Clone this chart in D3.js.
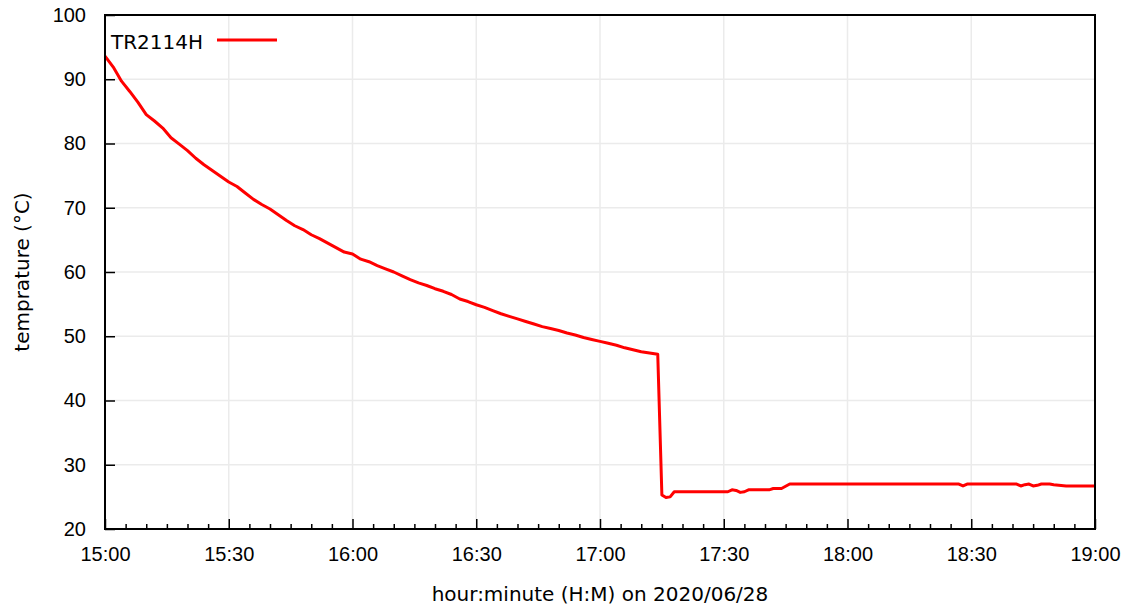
<!DOCTYPE html>
<html>
<head>
<meta charset="utf-8">
<script src="https://cdn.jsdelivr.net/npm/d3@7"></script>
<style>
  html, body { margin: 0; padding: 0; background: #fff; }
  svg { display: block; font-family: "DejaVu Sans", Verdana, sans-serif; }
</style>
</head>
<body>
<svg id="chart" width="1134" height="614"></svg>
<script>
// Temperature log of TR2114H, 2020/06/28 (clock time, °C)
const times = [
  "15:00","15:02","15:04","15:06","15:08","15:10","15:12","15:14","15:16","15:18",
  "15:20","15:22","15:24","15:26","15:28","15:30","15:32","15:34","15:36","15:38",
  "15:40","15:42","15:44","15:46","15:48","15:50","15:52","15:54","15:56","15:58",
  "16:00","16:02","16:04","16:06","16:08","16:10","16:12","16:14","16:16","16:18",
  "16:20","16:22","16:24","16:26","16:28","16:30","16:32","16:34","16:36","16:38",
  "16:40","16:42","16:44","16:46","16:48","16:50","16:52","16:54","16:56","16:58",
  "17:00","17:02","17:04","17:06","17:08","17:10","17:12","17:14","17:15","17:16",
  "17:17","17:18","17:30","17:31","17:32","17:33","17:34","17:35","17:36","17:41",
  "17:42","17:44","17:46","18:27","18:28","18:29","18:41","18:42","18:43","18:44",
  "18:45","18:46","18:47","18:49","18:50","18:53","19:00"
];
const temps = [
  93.6, 91.9, 89.7, 88.1, 86.4, 84.5, 83.5, 82.4, 80.9, 79.9,
  78.9, 77.7, 76.7, 75.8, 74.9, 74.0, 73.3, 72.3, 71.3, 70.5,
  69.8, 68.9, 68.0, 67.2, 66.6, 65.8, 65.2, 64.5, 63.8, 63.1,
  62.8, 62.0, 61.6, 61.0, 60.5, 60.0, 59.4, 58.8, 58.3, 57.9,
  57.4, 57.0, 56.5, 55.8, 55.4, 54.9, 54.5, 54.0, 53.5, 53.1,
  52.7, 52.3, 51.9, 51.5, 51.2, 50.9, 50.5, 50.2, 49.8, 49.5,
  49.2, 48.9, 48.6, 48.2, 47.9, 47.6, 47.4, 47.2, 25.3, 24.9,
  25.0, 25.8, 25.8, 25.8, 26.1, 26.0, 25.7, 25.8, 26.1, 26.1,
  26.3, 26.3, 27.0, 27.0, 26.7, 27.0, 27.0, 26.7, 26.9, 27.0,
  26.7, 26.8, 27.0, 27.0, 26.9, 26.7, 26.7
];
const seriesName = "TR2114H";
const yTicks = [20, 30, 40, 50, 60, 70, 80, 90, 100];
const xTickLabels = ["15:00","15:30","16:00","16:30","17:00","17:30","18:00","18:30","19:00"];
const xTitle = "hour:minute (H:M) on 2020/06/28";
const yTitle = "temprature (°C)";

const parse = d3.timeParse("%Y-%m-%d %H:%M");
const day = "2020-06-28";
const data = times.map((t, i) => ({ t: parse(day + " " + t), v: temps[i] }));

const margin = { left: 105, right: 39, top: 15, bottom: 85 };
const W = 1134, H = 614;
const svg = d3.select("#chart");

const x = d3.scaleTime()
  .domain([parse(day + " 15:00"), parse(day + " 19:00")])
  .range([margin.left, W - margin.right]);
const y = d3.scaleLinear()
  .domain([20, 100])
  .range([H - margin.bottom, margin.top]);

const majorX = xTickLabels.map(s => parse(day + " " + s));
const minorX = d3.timeMinute.every(5).range(x.domain()[0], x.domain()[1])
  .filter(d => d.getMinutes() % 30 !== 0);

// grid
const grid = svg.append("g").attr("stroke", "#ebebeb").attr("stroke-width", 1.5);
majorX.slice(1, -1).forEach(d => {
  grid.append("line").attr("x1", x(d)).attr("x2", x(d))
    .attr("y1", y(20)).attr("y2", y(100));
});
yTicks.slice(1, -1).forEach(v => {
  grid.append("line").attr("x1", x.range()[0]).attr("x2", x.range()[1])
    .attr("y1", y(v)).attr("y2", y(v));
});

// bottom axis: ticks pointing inward
const xAxis = d3.axisBottom(x)
  .tickValues(majorX)
  .tickFormat(d3.timeFormat("%H:%M"))
  .tickSizeInner(-10).tickSizeOuter(0).tickPadding(18);
const gx = svg.append("g").attr("transform", `translate(0,${y(20)})`).call(xAxis);
gx.select(".domain").remove();
gx.selectAll("line").attr("stroke", "#000").attr("stroke-width", 1.5);
gx.selectAll("text").attr("font-size", 20).attr("fill", "#000");

const xMinor = d3.axisBottom(x).tickValues(minorX).tickFormat("")
  .tickSizeInner(-5).tickSizeOuter(0);
const gxm = svg.append("g").attr("transform", `translate(0,${y(20)})`).call(xMinor);
gxm.select(".domain").remove();
gxm.selectAll("line").attr("stroke", "#000").attr("stroke-width", 1.5);

// left axis
const yAxis = d3.axisLeft(y).tickValues(yTicks)
  .tickSizeInner(-10).tickSizeOuter(0).tickPadding(19);
const gy = svg.append("g").attr("transform", `translate(${x.range()[0]},0)`).call(yAxis);
gy.select(".domain").remove();
gy.selectAll("line").attr("stroke", "#000").attr("stroke-width", 1.5);
gy.selectAll("text").attr("font-size", 20).attr("fill", "#000");

// data line
const line = d3.line().x(d => x(d.t)).y(d => y(d.v));
svg.append("path").datum(data)
  .attr("fill", "none").attr("stroke", "#ff0000").attr("stroke-width", 3)
  .attr("stroke-linejoin", "round")
  .attr("d", line);

// frame
svg.append("rect")
  .attr("x", x.range()[0]).attr("y", y(100))
  .attr("width", x.range()[1] - x.range()[0]).attr("height", y(20) - y(100))
  .attr("fill", "none").attr("stroke", "#000").attr("stroke-width", 2);

// legend
svg.append("text").attr("x", 111).attr("y", 49)
  .attr("font-size", 20).attr("fill", "#000").text(seriesName);
svg.append("line").attr("x1", 217).attr("x2", 277).attr("y1", 40).attr("y2", 40)
  .attr("stroke", "#ff0000").attr("stroke-width", 3);

// axis titles
svg.append("text").attr("x", (x.range()[0] + x.range()[1]) / 2).attr("y", 601)
  .attr("text-anchor", "middle").attr("font-size", 20).attr("fill", "#000").text(xTitle);
svg.append("text")
  .attr("transform", `translate(29,${(y(20) + y(100)) / 2}) rotate(-90)`)
  .attr("text-anchor", "middle").attr("font-size", 20).attr("fill", "#000").text(yTitle);
</script>
</body>
</html>
